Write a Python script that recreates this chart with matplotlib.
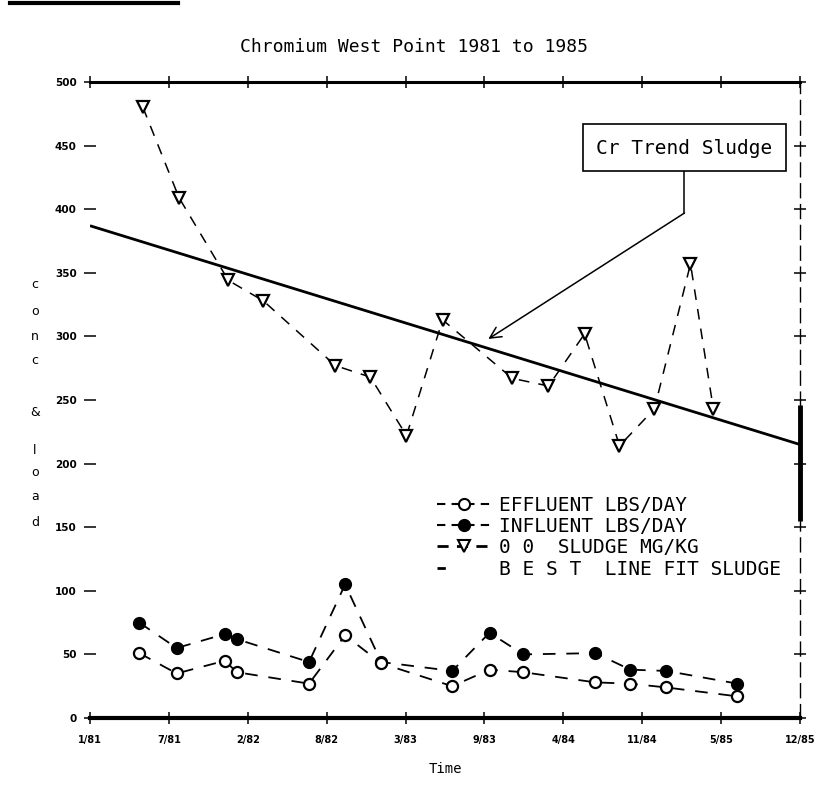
import matplotlib
matplotlib.use("Agg")
import matplotlib.pyplot as plt
from matplotlib.lines import Line2D
from matplotlib.patches import Rectangle

# ---- data (x in months since Jan 1981) ----
tick_labels = ["1/81", "7/81", "2/82", "8/82", "3/83", "9/83", "4/84", "11/84", "5/85", "12/85"]
sludge_x = [4.4, 7.4, 11.5, 14.4, 20.4, 23.3, 26.3, 29.3, 35.1, 38.1, 41.1, 44.0, 46.9, 49.9, 51.8]
sludge_y = [480, 409, 344, 328, 277, 268, 222, 313, 267, 261, 302, 214, 243, 357, 243]
load_x = [4.1, 7.2, 11.2, 12.2, 18.2, 21.2, 24.2, 30.1, 33.2, 36.0, 42.0, 44.9, 47.9, 53.8]
influent_y = [75, 55, 66, 62, 44, 105, 44, 37, 67, 50, 51, 38, 37, 27]
effluent_y = [51, 35, 45, 36, 27, 65, 43, 25, 38, 36, 28, 27, 24, 17]
fit_x = [0, 59]
fit_y = [387, 215]

MONO = "DejaVu Sans Mono"

fig = plt.figure(figsize=(8.16, 7.92), dpi=100)
ax = fig.add_axes([90/816, 1-718/792, 710/816, 636/792])
ax.set_xlim(0, 59)
ax.set_ylim(0, 500)

dash = (0, (7, 6))
ax.plot(fit_x, fit_y, color="black", lw=2.0, solid_capstyle="butt")
ax.plot(sludge_x, sludge_y, color="black", lw=1.1, ls=dash, marker="v",
        ms=8, mfc="white", mec="black", mew=1.6)
ax.plot(load_x, influent_y, color="black", lw=1.3, ls=dash, marker="o",
        ms=8.5, mfc="black", mec="black")
ax.plot(load_x, effluent_y, color="black", lw=1.3, ls=dash, marker="o",
        ms=8, mfc="white", mec="black", mew=1.6)

# axes / spines
xt = [i * 59 / 9 for i in range(10)]
ax.set_xticks(xt)
ax.set_xticklabels(tick_labels, fontsize=7, fontweight="bold")
ax.set_yticks(range(0, 501, 50))
ax.set_yticklabels([str(v) for v in range(0, 501, 50)], fontsize=7.5, fontweight="bold")
ax.tick_params(direction="inout", length=9, width=1.1, pad=5)
ax.tick_params(axis="x", pad=8)
ax.tick_params(top=True, right=True)
ax.spines["left"].set_visible(False)
ax.spines["top"].set_linewidth(2.2)
ax.spines["bottom"].set_linewidth(3)
ax.spines["right"].set_linewidth(1.0)
ax.spines["right"].set_linestyle((0, (10, 5)))
ax.vlines(59, 155, 246, color="black", lw=3.5, clip_on=False)

ax.set_xlabel("Time", fontsize=10, family=MONO, labelpad=12)

# stacked y label
ylab = "conc & load"
ypos = [285, 311, 337, 360, None, 412, None, 450, 473, 497, 522]
for ch, yp in zip(ylab, ypos):
    if yp is None:
        continue
    fig.text(35/816, 1 - yp/792, ch, fontsize=9, ha="center", va="center")

fig.text(414/816, 1 - 47/792, "Chromium West Point 1981 to 1985",
         fontsize=13, family=MONO, ha="center", va="center")
fig.add_artist(Line2D([10/816, 178/816], [1 - 3/792, 1 - 3/792], color="black", lw=3))

# annotation box and arrow
ax.add_patch(Rectangle(((583-90)/710, (718-171)/636), 203/710, 47/636,
                       transform=ax.transAxes, fc="white", ec="black", lw=1.2, zorder=5))
ax.text(49.4, 448, "Cr Trend Sludge", fontsize=14, family=MONO, ha="center",
        va="center", zorder=6)
ax.plot([49.4, 49.4], [431, 397], color="black", lw=1.1)
ax.annotate("", xy=(33.1, 298), xytext=(49.4, 397),
            arrowprops=dict(arrowstyle="->", color="black", lw=1.1,
                            mutation_scale=20, shrinkA=0, shrinkB=0))

# legend
handles = [
    Line2D([], [], color="black", lw=1.5, ls=(0, (4, 3)), marker="o", ms=8,
           mfc="white", mec="black", mew=1.5),
    Line2D([], [], color="black", lw=1.5, ls=(0, (4, 3)), marker="o", ms=8.5,
           mfc="black", mec="black"),
    Line2D([], [], color="black", lw=2, ls=(0, (4, 3)), marker="v", ms=8,
           mfc="white", mec="black", mew=1.5),
    Line2D([], [], color="black", lw=2, ls=(0, (3, 40))),
]
labels = ["EFFLUENT LBS/DAY", "INFLUENT LBS/DAY", "0 0  SLUDGE MG/KG",
          "B E S T  LINE FIT SLUDGE"]
leg = ax.legend(handles, labels, loc="upper left", bbox_to_anchor=(0.478, 0.362),
                frameon=False, handlelength=2.8, handletextpad=0.4,
                labelspacing=0.12, borderaxespad=0,
                prop={"family": MONO, "size": 14})

fig.savefig("out.png", dpi=100)
